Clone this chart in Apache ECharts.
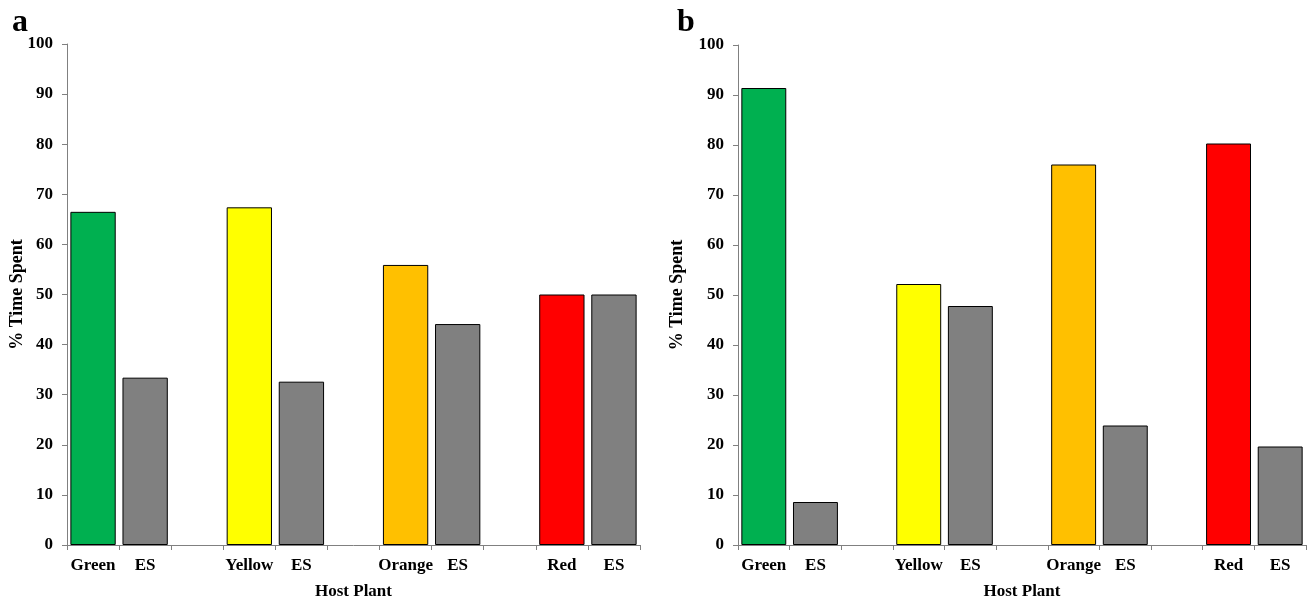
<!DOCTYPE html>
<html><head><meta charset="utf-8">
<script src="https://cdn.jsdelivr.net/npm/echarts@6/dist/echarts.min.js"></script>
<style>html,body{margin:0;padding:0;background:#fff}#c{width:1312px;height:597px}</style>
</head><body><div id="c"></div>
<script>
const categories = ["Green","ES","","Yellow","ES","","Orange","ES","","Red","ES"];
const valuesA = [66.5, 33.4, null, 67.4, 32.6, null, 55.9, 44.1, null, 50.0, 50.0];
const valuesB = [91.4, 8.6, null, 52.2, 47.8, null, 76.1, 23.9, null, 80.3, 19.7];
const barColors = ["#00B050","#808080",null,"#FFFF00","#808080",null,"#FFC000","#808080",null,"#FF0000","#808080"];
const yTicks = [0,10,20,30,40,50,60,70,80,90,100];

const font = "'Liberation Serif','Times New Roman',serif";
const axisCol = "#808080";
function mk(vals){
  return vals.map((v,i)=> v==null ? null : {value:v, itemStyle:{color:barColors[i], borderColor:"#000", borderWidth:1}});
}
function xAx(idx){
  return {type:"category", gridIndex:idx, data:categories,
    name:"Host Plant", nameLocation:"middle", nameGap:38, nameMoveOverlap:false,
    nameTextStyle:{fontFamily:font, fontWeight:"bold", fontSize:17, color:"#000"},
    axisLine:{lineStyle:{color:axisCol, width:1}},
    axisTick:{show:true, length:5, lineStyle:{color:axisCol}},
    axisLabel:{fontFamily:font, fontWeight:"bold", fontSize:17, color:"#000", margin:12, interval:0}};
}
function yAx(idx, gap){
  return {type:"value", gridIndex:idx, min:yTicks[0], max:yTicks[yTicks.length-1], interval:10,
    name:"% Time Spent", nameLocation:"middle", nameGap:gap, nameRotate:90, nameMoveOverlap:false,
    nameTextStyle:{fontFamily:font, fontWeight:"bold", fontSize:18, color:"#000"},
    splitLine:{show:false},
    axisLine:{show:true, lineStyle:{color:axisCol, width:1}},
    axisTick:{show:true, length:5, lineStyle:{color:axisCol}},
    axisLabel:{fontFamily:font, fontWeight:"bold", fontSize:17, color:"#000", margin:14}};
}
const chart = echarts.init(document.getElementById('c'), null, {renderer:'canvas'});
chart.setOption({
  backgroundColor:"#fff",
  animation:false,
  title:[
    {text:"a", left:7, top:2, textStyle:{fontFamily:font, fontWeight:"bold", fontSize:32, color:"#000"}},
    {text:"b", left:672, top:2, textStyle:{fontFamily:font, fontWeight:"bold", fontSize:32, color:"#000"}}
  ],
  grid:[
    {left:67, right:672, top:44, bottom:52, outerBoundsMode:'none', containLabel:false},
    {left:738, right:6, top:45, bottom:52, outerBoundsMode:'none', containLabel:false}
  ],
  xAxis:[xAx(0), xAx(1)],
  yAxis:[yAx(0, 41), yAx(1, 52)],
  series:[
    {type:"bar", xAxisIndex:0, yAxisIndex:0, data:mk(valuesA), barCategoryGap:"13%"},
    {type:"bar", xAxisIndex:1, yAxisIndex:1, data:mk(valuesB), barCategoryGap:"13%"}
  ]
});
</script></body></html>
